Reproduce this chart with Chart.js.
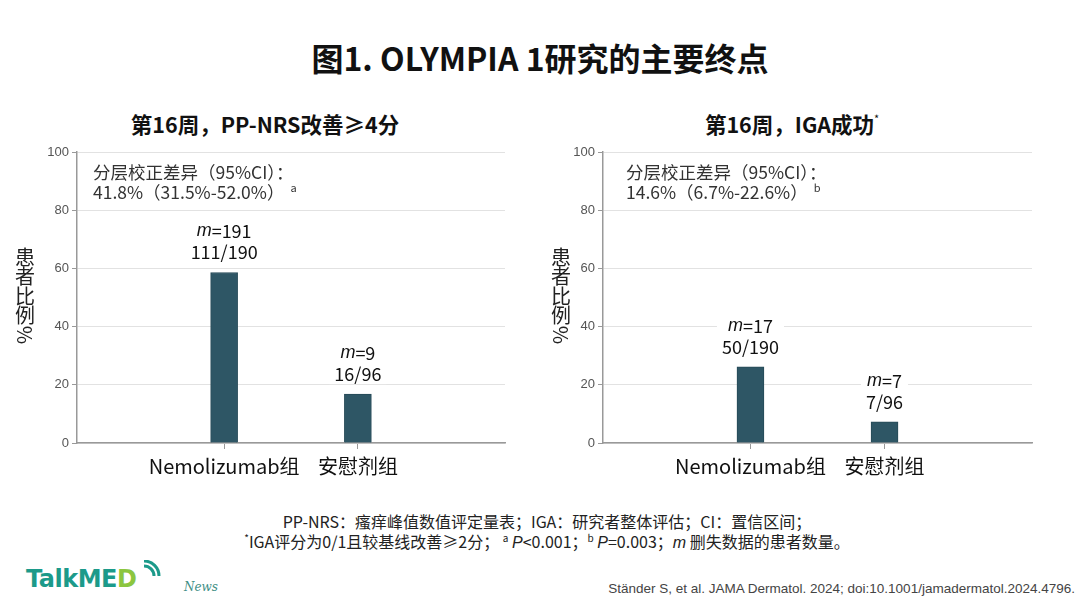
<!DOCTYPE html>
<html>
<head>
<meta charset="utf-8">
<script src="https://cdn.jsdelivr.net/npm/chart.js@4"></script>
<style>
  html, body { margin: 0; padding: 0; background: #fff; }
  body { width: 1080px; height: 608px; position: relative; overflow: hidden;
         font-family: "Noto Sans CJK SC", "Noto Sans", sans-serif; color: #111; }
  .abs { position: absolute; white-space: nowrap; }
  #title { left: 0; width: 1080px; top: 34px; text-align: center; font-size: 32px; font-weight: 700; }
  .sub { top: 108px; font-size: 21.5px; font-weight: 700; transform: translateX(-50%); }
  .sub sup { font-size: 11px; font-weight: 400; vertical-align: 10px; }
  canvas { position: absolute; }
  .foot { left: 0; width: 1094px; text-align: center; font-size: 16px; color: #222; }
  .foot i { font-family: "Liberation Sans", sans-serif; }
  .foot sup { font-size: 10px; vertical-align: 6px; }
  #logo { left: 26px; top: 565px; font-family: "DejaVu Sans", sans-serif; font-size: 24px; font-weight: 700;
          color: #1c9a8a; letter-spacing: -0.5px; }
  #logo span { color: #8cc63f; }
  #news { left: 184px; top: 580px; font-family: "DejaVu Serif", serif; font-style: italic; font-size: 12px; color: #3f8f86; }
  #cite { right: 5px; top: 581px; font-family: "Liberation Sans Narrow", "Liberation Sans", sans-serif; font-size: 13.5px; color: #444; }
</style>
</head>
<body>
<div id="title" class="abs">图1. OLYMPIA 1研究的主要终点</div>
<div class="abs sub" style="left:265px">第16周，PP-NRS改善≥4分</div>
<div class="abs sub" style="left:792px">第16周，IGA成功<sup>*</sup></div>

<canvas id="nrs-chart" style="left:0;top:140px" width="540" height="360"></canvas>
<canvas id="iga-chart" style="left:540px;top:140px" width="540" height="360"></canvas>

<div class="abs foot" style="top:509px">PP-NRS：瘙痒峰值数值评定量表；IGA：研究者整体评估；CI：置信区间；</div>
<div class="abs foot" style="top:529px"><sup>*</sup>IGA评分为0/1且较基线改善≥2分； <sup>a</sup> <i>P</i>&lt;0.001；<sup>b</sup> <i>P</i>=0.003；<i>m</i> 删失数据的患者数量。</div>

<div id="logo" class="abs">TalkME<span>D</span></div>
<svg class="abs" style="left:140px;top:560px" width="22" height="22" viewBox="0 0 22 22">
  <path d="M4 6 A 10 10 0 0 1 14 16" stroke="#1c9a8a" stroke-width="3" fill="none"/>
  <path d="M4 1 A 15 15 0 0 1 19 16" stroke="#1c9a8a" stroke-width="3" fill="none"/>
</svg>
<div id="news" class="abs">News</div>
<div id="cite" class="abs">Ständer S, et al. JAMA Dermatol. 2024; doi:10.1001/jamadermatol.2024.4796.</div>

<script>
// Values
const categories = ['Nemolizumab组', '安慰剂组'];
const nrsValues = [58.6, 16.8];
const igaValues = [26.2, 7.3];
const nrsMissing = ['191', '9'];
const nrsCounts = ['111/190', '16/96'];
const igaMissing = ['17', '7'];
const igaCounts = ['50/190', '7/96'];
const nrsNotes = ['分层校正差异（95%CI）：', '41.8%（31.5%-52.0%）', 'a'];
const igaNotes = ['分层校正差异（95%CI）：', '14.6%（6.7%-22.6%）', 'b'];
const yTitle = ['患', '者', '比', '例', '%'];

const BAR_COLOR = '#2e5665';
const CJK = '"Noto Sans CJK SC", "Noto Sans", sans-serif';

// draws the "m=.. / n/N" labels, the upright y title and the CI note
const extrasPlugin = {
  id: 'extras',
  afterDatasetsDraw(chart, args, opts) {
    const ctx = chart.ctx;
    const meta = chart.getDatasetMeta(0);
    ctx.save();
    meta.data.forEach((bar, k) => {
      const x = bar.x;
      const yCount = bar.y - 20;
      const yM = yCount - 21;
      ctx.font = 'italic 18px "Liberation Sans", sans-serif';
      const mW = ctx.measureText('m').width;
      ctx.font = '18px ' + CJK;
      const restW = ctx.measureText('=' + opts.missing[k]).width;
      const cW = ctx.measureText(opts.counts[k]).width;
      const w = Math.max(mW + restW, cW);
      ctx.fillStyle = '#fff';
      ctx.fillRect(x - w / 2 - 5, yM - 11, w + 10, 42);
      ctx.fillStyle = '#111';
      ctx.textBaseline = 'middle';
      ctx.textAlign = 'left';
      const x0 = x - (mW + restW) / 2;
      ctx.font = 'italic 18px "Liberation Sans", sans-serif';
      ctx.fillText('m', x0, yM);
      ctx.font = '18px ' + CJK;
      ctx.fillText('=' + opts.missing[k], x0 + mW, yM);
      ctx.textAlign = 'center';
      ctx.fillText(opts.counts[k], x, yCount);
    });

    // note in the upper left of the plot
    const area = chart.chartArea;
    ctx.textAlign = 'left';
    ctx.textBaseline = 'middle';
    ctx.fillStyle = '#333';
    ctx.font = '17.5px ' + CJK;
    ctx.fillText(opts.notes[0], area.left + opts.noteDx, 172 - 140);
    ctx.fillText(opts.notes[1], area.left + opts.noteDx, 192 - 140);
    const nw = ctx.measureText(opts.notes[1]).width;
    ctx.font = '11px ' + CJK;
    ctx.fillText(opts.notes[2], area.left + opts.noteDx + nw + 6, 188 - 140);

    // upright stacked y title
    ctx.fillStyle = '#222';
    ctx.font = '20px ' + CJK;
    ctx.textAlign = 'center';
    yTitle.forEach((ch, i) => {
      const y = 257 - 140 + i * 19.5;
      if (ch === '%') {
        ctx.save();
        ctx.translate(opts.titleX, y);
        ctx.rotate(Math.PI / 2);
        ctx.fillText(ch, 0, 0);
        ctx.restore();
      } else {
        ctx.fillText(ch, opts.titleX, y);
      }
    });
    ctx.restore();
  }
};

function makeChart(id, values, missing, counts, notes, axisWidth, rightPad, titleX, noteDx) {
  return new Chart(document.getElementById(id), {
    type: 'bar',
    data: {
      datasets: [{
        data: values.map((v, i) => ({ x: i + 1, y: v })),
        backgroundColor: BAR_COLOR,
        borderColor: '#264a57',
        borderWidth: 1,
        barThickness: 27
      }]
    },
    options: {
      responsive: false,
      animation: false,
      layout: { padding: { left: 0, right: rightPad, top: 12, bottom: 0 } },
      plugins: {
        legend: { display: false },
        tooltip: { enabled: false },
        extras: { missing: missing, counts: counts, notes: notes, titleX: titleX, noteDx: noteDx }
      },
      scales: {
        x: {
          type: 'linear',
          min: -0.1,
          max: 3.1,
          offset: false,
          afterBuildTicks: s => { s.ticks = categories.map((c, i) => ({ value: i + 1 })); },
          afterFit: s => { s.height = 57; },
          border: { color: '#999', width: 1.5 },
          grid: { offset: false, drawOnChartArea: false, tickLength: 6, tickColor: '#999' },
          ticks: {
            color: '#111',
            font: { size: 20, family: CJK },
            padding: 5,
            maxRotation: 0,
            autoSkip: false,
            callback: v => categories[v - 1]
          }
        },
        y: {
          min: 0,
          max: 100,
          afterFit: s => { s.width = axisWidth; },
          border: { color: '#999', width: 1.5 },
          grid: { color: '#e2e2e2', tickLength: 5, tickColor: '#999' },
          ticks: { stepSize: 20, color: '#555', font: { size: 13, family: '"Liberation Sans", sans-serif' }, padding: 3 }
        }
      }
    },
    plugins: [extrasPlugin]
  });
}

makeChart('nrs-chart', nrsValues, nrsMissing, nrsCounts, nrsNotes, 77, 35, 25, 16);
makeChart('iga-chart', igaValues, igaMissing, igaCounts, igaNotes, 63, 48, 21, 23);
</script>
</body>
</html>
